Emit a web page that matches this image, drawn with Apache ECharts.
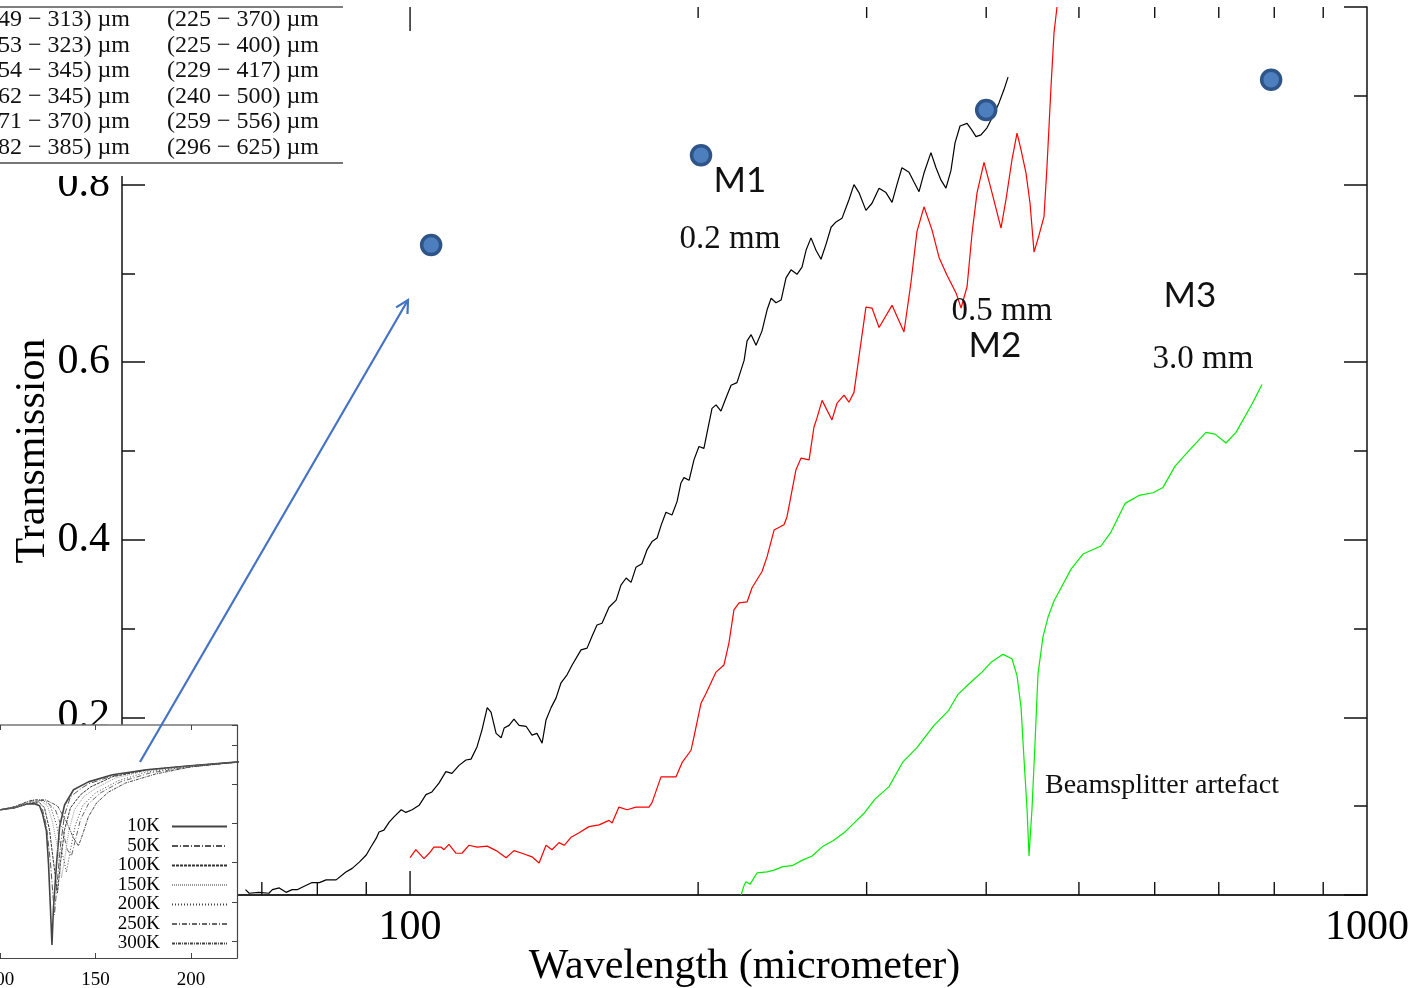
<!DOCTYPE html>
<html><head><meta charset="utf-8">
<script src="https://cdn.jsdelivr.net/npm/echarts@6/dist/echarts.min.js"></script>
<style>html,body{margin:0;padding:0;background:#fff}#c{width:1424px;height:988px}</style>
</head><body><div id="c"></div>
<script>
const SERIF = '"Liberation Serif","Times New Roman",serif';
const SANS = 'Lato,"Open Sans",sans-serif';

// ---- main chart: [wavelength (µm), transmission] ----
const curve02mm = [[67.3,0.006],[67.9,0.002],[69.5,0.003],[71.2,0.002],[71.8,0.006],[73.0,0.008],[74.2,0.003],[75.3,0.006],[76.2,0.006],[77.9,0.011],[79.0,0.014],[80.4,0.014],[81.7,0.017],[83.7,0.017],[85.7,0.026],[87.0,0.030],[88.5,0.037],[90.0,0.045],[91.0,0.054],[92.2,0.064],[92.8,0.071],[93.9,0.073],[95.1,0.082],[96.2,0.088],[97.9,0.096],[99.0,0.093],[100.5,0.096],[102.2,0.101],[103.9,0.113],[105.4,0.116],[107.2,0.126],[109.0,0.139],[110.6,0.137],[112.5,0.146],[114.4,0.152],[115.8,0.153],[117.5,0.167],[118.9,0.186],[120.4,0.211],[121.5,0.206],[123.0,0.182],[124.5,0.177],[125.4,0.188],[126.9,0.191],[128.4,0.198],[130.0,0.191],[132.2,0.190],[134.1,0.180],[135.7,0.182],[137.4,0.171],[138.7,0.197],[140.4,0.211],[142.1,0.222],[143.8,0.239],[145.9,0.248],[147.7,0.259],[150.9,0.276],[153.1,0.278],[154.9,0.291],[156.8,0.304],[158.7,0.306],[161.4,0.324],[164.2,0.332],[166.1,0.349],[168.2,0.357],[170.2,0.352],[172.2,0.369],[174.7,0.373],[176.9,0.389],[179.0,0.398],[181.2,0.402],[182.9,0.416],[185.1,0.431],[187.8,0.428],[190.1,0.443],[191.9,0.464],[193.3,0.470],[195.7,0.467],[198.0,0.490],[200.4,0.505],[202.8,0.503],[204.3,0.520],[206.8,0.548],[208.8,0.552],[211.3,0.545],[213.9,0.560],[216.5,0.574],[219.6,0.577],[223.4,0.602],[225.0,0.624],[227.2,0.631],[229.9,0.619],[233.2,0.635],[236.1,0.659],[238.4,0.672],[241.2,0.667],[244.2,0.670],[247.1,0.695],[250.1,0.704],[253.7,0.699],[256.8,0.707],[259.3,0.726],[262.4,0.740],[265.6,0.726],[268.8,0.716],[272.1,0.733],[275.4,0.752],[278.7,0.758],[282.7,0.762],[287.5,0.783],[291.0,0.800],[294.5,0.791],[299.5,0.771],[303.9,0.779],[309.1,0.796],[314.3,0.791],[318.9,0.780],[322.7,0.800],[326.6,0.819],[332.2,0.814],[336.2,0.803],[340.3,0.792],[344.4,0.813],[350.2,0.836],[354.5,0.819],[358.8,0.805],[363.1,0.796],[367.5,0.816],[371.1,0.847],[375.6,0.866],[382.0,0.869],[386.6,0.861],[390.3,0.854],[395.0,0.856],[400.8,0.864],[405.6,0.875],[412.5,0.892],[417.5,0.907],[421.6,0.921]];

const curve05mm = [[100.0,0.042],[101.4,0.051],[103.4,0.041],[104.7,0.047],[105.9,0.054],[107.7,0.054],[108.5,0.051],[109.8,0.057],[111.7,0.047],[113.3,0.047],[115.2,0.056],[117.5,0.054],[120.4,0.055],[123.0,0.050],[126.0,0.042],[128.4,0.050],[130.9,0.047],[134.1,0.043],[136.4,0.036],[138.7,0.056],[140.7,0.051],[143.1,0.059],[144.9,0.056],[147.3,0.065],[150.2,0.070],[153.8,0.077],[157.6,0.079],[161.4,0.084],[162.6,0.081],[165.3,0.099],[168.6,0.096],[172.2,0.099],[177.7,0.099],[179.0,0.104],[182.9,0.133],[189.6,0.133],[192.4,0.149],[196.6,0.163],[198.0,0.178],[201.4,0.216],[203.8,0.227],[208.8,0.251],[212.8,0.259],[215.4,0.284],[218.0,0.321],[220.7,0.329],[225.0,0.330],[227.7,0.346],[231.0,0.357],[233.2,0.364],[236.1,0.381],[240.1,0.411],[245.9,0.417],[247.7,0.426],[253.1,0.479],[256.2,0.492],[261.2,0.490],[264.3,0.527],[266.2,0.537],[269.5,0.557],[276.0,0.535],[279.4,0.554],[284.1,0.563],[287.5,0.555],[291.0,0.566],[294.5,0.606],[299.5,0.662],[303.9,0.661],[309.1,0.639],[318.9,0.664],[328.2,0.634],[333.8,0.690],[338.6,0.747],[344.4,0.775],[351.1,0.749],[357.1,0.718],[364.0,0.698],[372.0,0.678],[376.5,0.661],[382.0,0.685],[386.6,0.745],[391.3,0.791],[397.9,0.825],[405.6,0.791],[414.5,0.751],[419.5,0.783],[425.6,0.828],[430.8,0.858],[435.0,0.839],[440.2,0.813],[444.5,0.779],[448.8,0.724],[454.2,0.743],[459.7,0.764],[463.0,0.820],[467.5,0.910],[470.9,0.971],[474.3,1.000]];

const curve30mm = [[221.8,0.000],[223.4,0.011],[224.4,0.015],[226.6,0.012],[230.5,0.025],[236.1,0.026],[240.1,0.028],[245.3,0.032],[250.7,0.033],[256.8,0.039],[263.1,0.044],[270.1,0.055],[276.7,0.061],[284.1,0.070],[291.0,0.081],[298.1,0.092],[306.1,0.108],[316.6,0.122],[327.4,0.150],[338.6,0.166],[352.8,0.191],[364.9,0.207],[373.8,0.226],[386.6,0.241],[396.0,0.251],[404.7,0.262],[416.5,0.271],[425.6,0.266],[430.8,0.247],[435.0,0.211],[438.1,0.153],[441.3,0.097],[443.4,0.044],[446.6,0.097],[449.9,0.172],[453.1,0.249],[458.6,0.291],[464.2,0.313],[470.9,0.331],[480.1,0.348],[490.6,0.367],[504.9,0.384],[527.3,0.393],[540.2,0.409],[558.7,0.441],[577.8,0.450],[597.6,0.453],[612.1,0.459],[630.1,0.483],[654.8,0.503],[678.8,0.521],[693.7,0.519],[712.3,0.509],[729.6,0.521],[758.3,0.553],[776.7,0.575]];

const markerPoints = [[105.2,0.732],[201.4,0.833],[400.0,0.884],[794.0,0.918]];

const minorTickValues = [60,70,80,90,200,300,400,500,600,700,800,900];
const majorTickValues = [100];

// ---- inset chart (temperature series) ----
const insetNames = ['10K','50K','100K','150K','200K','250K','300K'];
const inset10K = [[100.3,0.435],[107.6,0.440],[114.4,0.450],[118.1,0.450],[120.7,0.445],[122.3,0.424],[124.3,0.381],[125.4,0.297],[126.4,0.185],[127.2,0.090],[128.0,0.185],[129.6,0.297],[131.2,0.391],[133.8,0.447],[138.5,0.486],[146.3,0.506],[158.9,0.524],[176.7,0.537],[199.7,0.547],[225.4,0.557]];
const inset50K = [[100.3,0.435],[107.6,0.440],[114.4,0.450],[119.1,0.452],[122.3,0.435],[124.3,0.394],[126.4,0.302],[128.5,0.167],[130.1,0.256],[131.7,0.345],[133.8,0.422],[136.9,0.468],[142.1,0.488],[146.3,0.501],[158.9,0.521],[176.7,0.537],[199.7,0.547],[225.4,0.557]];
const inset100K = [[100.3,0.435],[107.6,0.440],[114.4,0.450],[120.2,0.455],[123.3,0.440],[125.9,0.384],[128.0,0.302],[130.1,0.223],[131.7,0.302],[133.8,0.384],[136.9,0.440],[142.1,0.473],[147.4,0.493],[158.9,0.519],[176.7,0.536],[199.7,0.547],[225.4,0.557]];
const inset150K = [[100.3,0.435],[107.6,0.440],[114.4,0.451],[121.2,0.458],[124.9,0.445],[127.5,0.404],[130.1,0.338],[132.2,0.261],[133.8,0.307],[135.9,0.378],[139.0,0.435],[144.2,0.470],[150.5,0.491],[160.5,0.516],[176.7,0.534],[199.7,0.546],[225.4,0.557]];
const inset200K = [[100.3,0.435],[107.6,0.441],[114.4,0.452],[122.2,0.460],[126.4,0.445],[129.6,0.396],[132.2,0.333],[134.8,0.276],[136.9,0.333],[139.5,0.396],[143.2,0.445],[150.0,0.478],[162.0,0.509],[176.7,0.531],[199.7,0.545],[225.4,0.557]];
const inset250K = [[100.3,0.435],[107.6,0.442],[114.4,0.454],[118.6,0.460],[123.8,0.458],[129.0,0.435],[132.7,0.384],[135.3,0.333],[137.4,0.317],[139.5,0.358],[142.1,0.409],[146.3,0.450],[152.6,0.478],[163.1,0.506],[178.8,0.529],[199.7,0.544],[225.4,0.557]];
const inset300K = [[100.3,0.435],[107.6,0.443],[114.4,0.456],[117.5,0.460],[123.8,0.460],[130.1,0.445],[134.8,0.404],[138.5,0.363],[141.1,0.343],[143.2,0.371],[146.3,0.417],[150.5,0.452],[156.8,0.480],[165.7,0.503],[181.4,0.526],[199.7,0.544],[225.4,0.557]];
const insetCurves = [inset10K, inset50K, inset100K, inset150K, inset200K, inset250K, inset300K];

// ---- table overlay text ----
const tableCol1 = ['49 \u2212 313) \u00b5m','53 \u2212 323) \u00b5m','54 \u2212 345) \u00b5m','62 \u2212 345) \u00b5m','71 \u2212 370) \u00b5m','82 \u2212 385) \u00b5m'];
const tableCol2 = ['(225 \u2212 370) \u00b5m','(225 \u2212 400) \u00b5m','(229 \u2212 417) \u00b5m','(240 \u2212 500) \u00b5m','(259 \u2212 556) \u00b5m','(296 \u2212 625) \u00b5m'];

const insetStyles = [
  {color:'#444', width:1.6, type:'solid'},
  {color:'#555', width:1, type:[6,2,1,2]},
  {color:'#333', width:1, type:[3,1]},
  {color:'#999', width:1, type:[1,1]},
  {color:'#444', width:1, type:[1,2]},
  {color:'#666', width:1, type:[5,2,1,2]},
  {color:'#444', width:1, type:[3,1,1,1]}
];

const isDecade = v => Math.abs(Math.log10(v) - Math.round(Math.log10(v))) < 1e-6;

const chart = echarts.init(document.getElementById('c'));

const series = [
  {name:'0.2 mm', type:'line', data:curve02mm, showSymbol:false, symbol:'none', lineStyle:{color:'#000', width:1.2}, itemStyle:{color:'#000'}, z:3, xAxisIndex:0, yAxisIndex:0},
  {name:'0.5 mm', type:'line', data:curve05mm, showSymbol:false, symbol:'none', lineStyle:{color:'#ff0000', width:1.2}, itemStyle:{color:'#ff0000'}, z:3, xAxisIndex:0, yAxisIndex:0},
  {name:'3.0 mm', type:'line', data:curve30mm, showSymbol:false, symbol:'none', lineStyle:{color:'#00ee00', width:1.2}, itemStyle:{color:'#00ee00'}, z:3, xAxisIndex:0, yAxisIndex:0},
  {name:'ticks', type:'custom', xAxisIndex:0, yAxisIndex:0, silent:true, z:4, clip:false,
    data: minorTickValues.map(v => [v, 0]).concat(majorTickValues.map(v => [v, 1])),
    renderItem: function(params, api){
      const v = api.value(0), major = api.value(1) === 1;
      const b = api.coord([v, 0]), t = api.coord([v, 1]);
      const len = major ? 24 : 13;
      const st = {stroke:'#111', lineWidth:1.4};
      return {type:'group', children:[
        {type:'line', shape:{x1:b[0], y1:b[1], x2:b[0], y2:b[1]-len}, style:st},
        {type:'line', shape:{x1:t[0], y1:t[1], x2:t[0], y2:t[1]+(major ? len : 11)}, style:st}
      ]};
    }},
  {name:'M', type:'scatter', data:markerPoints, symbolSize:19, xAxisIndex:0, yAxisIndex:0, z:6,
    itemStyle:{color:'#4d7fbf', borderColor:'#2f5488', borderWidth:3.5, opacity:1}}
];
insetCurves.forEach((d, i) => {
  series.push({name:insetNames[i], type:'line', data:d, xAxisIndex:2, yAxisIndex:2, showSymbol:false, symbol:'none', z:23,
    lineStyle:{color:insetStyles[i].color, width:insetStyles[i].width, type:insetStyles[i].type},
    itemStyle:{color:insetStyles[i].color}});
});

const option = {
  animation:false,
  backgroundColor:'#fff',
  grid:[
    {left:122, top:7, right:57, bottom:93, containLabel:false, outerBoundsMode:'none'},
    {left:0, top:725, width:237, height:233, containLabel:false, outerBoundsMode:'none'}
  ],
  legend:{
    data:insetNames, orient:'vertical', align:'right', right:1424-228, top:817, padding:0,
    itemWidth:55, itemHeight:12, itemGap:0.5, selectedMode:false, z:24,
    itemStyle:{opacity:0},
    textStyle:{fontFamily:SERIF, fontSize:19, lineHeight:15, color:'#000', padding:[0,7,0,0]}
  },
  xAxis:[
    {gridIndex:0, type:'log', logBase:10, min:50, max:1000, position:'bottom',
      axisLine:{lineStyle:{color:'#111', width:1.5}}, axisTick:{show:false}, minorTick:{show:false}, splitLine:{show:false},
      axisLabel:{fontFamily:SERIF, fontSize:42, color:'#000', margin:12, showMinLabel:true, showMaxLabel:true,
        formatter: v => isDecade(v) ? String(Math.round(v)) : ''},
      name:'Wavelength (micrometer)', nameLocation:'middle', nameGap:51, nameMoveOverlap:false,
      nameTextStyle:{fontFamily:SERIF, fontSize:42, color:'#000'}},
    {gridIndex:0, type:'log', logBase:10, min:50, max:1000, position:'top',
      axisLine:{lineStyle:{color:'#222', width:1.5}}, axisTick:{show:false}, axisLabel:{show:false}, splitLine:{show:false}},
    {gridIndex:1, type:'value', min:100, max:224.1, interval:50, position:'bottom', z:21,
      axisLine:{lineStyle:{color:'#444', width:1.2}}, axisTick:{inside:true, length:5, lineStyle:{color:'#444'}}, splitLine:{show:false},
      axisLabel:{fontFamily:SERIF, fontSize:19, color:'#000', margin:13, showMinLabel:true, showMaxLabel:false,
        formatter: v => (Math.abs(v % 50) < 1e-6 ? String(v) : '')}},
    {gridIndex:1, type:'value', min:100, max:224.1, interval:50, position:'top', z:21,
      axisLine:{lineStyle:{color:'#777', width:1.6}}, axisTick:{inside:true, length:5, lineStyle:{color:'#444'}}, axisLabel:{show:false}, splitLine:{show:false}}
  ],
  yAxis:[
    {gridIndex:0, type:'value', min:0, max:1, interval:0.2, position:'left',
      axisLine:{show:true, lineStyle:{color:'#111', width:1.5}},
      axisTick:{show:true, inside:true, length:23, lineStyle:{color:'#111', width:1.5}},
      minorTick:{show:true, splitNumber:2, length:13, lineStyle:{color:'#111', width:1.5}},
      splitLine:{show:false},
      axisLabel:{fontFamily:SERIF, fontSize:42, color:'#000', margin:12, formatter: v => v.toFixed(1)},
      name:'Transmission', nameLocation:'middle', nameGap:68, nameRotate:90, nameMoveOverlap:false,
      nameTextStyle:{fontFamily:SERIF, fontSize:42, color:'#000'}},
    {gridIndex:0, type:'value', min:0, max:1, interval:0.2, position:'right',
      axisLine:{show:true, lineStyle:{color:'#111', width:1.5}},
      axisTick:{show:true, inside:true, length:23, lineStyle:{color:'#111', width:1.5}},
      minorTick:{show:true, splitNumber:2, length:13, lineStyle:{color:'#111', width:1.5}},
      splitLine:{show:false}, axisLabel:{show:false}},
    {gridIndex:1, type:'value', min:0.057, max:0.651, minInterval:0.1, maxInterval:0.1, position:'right', z:21,
      axisLine:{show:true, lineStyle:{color:'#444', width:1.2}},
      axisTick:{show:true, inside:true, length:5, lineStyle:{color:'#444'}},
      splitLine:{show:false}, axisLabel:{show:false}}
  ],
  series: series
};
chart.setOption(option);

// ---- overlays and annotations ----
const els = [];
// table overlay
els.push({type:'rect', shape:{x:0, y:0, width:386, height:176}, style:{fill:'#fff'}, z:20, silent:true});
els.push({type:'line', shape:{x1:0, y1:7, x2:343, y2:7}, style:{stroke:'#555', lineWidth:1.5}, z:21});
els.push({type:'line', shape:{x1:0, y1:163, x2:343, y2:163}, style:{stroke:'#777', lineWidth:2}, z:21});
tableCol1.forEach((t, i) => {
  const y = 20 + i * 25.5;
  els.push({type:'text', z:21, style:{text:t, x:-2, y:y, font:'24px ' + SERIF, fill:'#111', align:'left', verticalAlign:'middle'}});
  els.push({type:'text', z:21, style:{text:tableCol2[i], x:167, y:y, font:'24px ' + SERIF, fill:'#111', align:'left', verticalAlign:'middle'}});
});
// inset background
els.push({type:'rect', shape:{x:0, y:725, width:237, height:263}, style:{fill:'#fff'}, z:20, silent:true});

// text annotations
const notes = [
  {t:'M1', x:740, y:181, f:'35px ' + SANS},
  {t:'0.2 mm', x:730, y:239, f:'33px ' + SERIF},
  {t:'0.5 mm', x:1002, y:311, f:'33px ' + SERIF},
  {t:'M2', x:995, y:346, f:'35px ' + SANS},
  {t:'M3', x:1190, y:296, f:'35px ' + SANS},
  {t:'3.0 mm', x:1203, y:359, f:'33px ' + SERIF},
  {t:'Beamsplitter artefact', x:1162, y:786, f:'28px ' + SERIF}
];
notes.forEach(n => els.push({type:'text', z:25, style:{text:n.t, x:n.x, y:n.y, font:n.f, fill:'#111', align:'center', verticalAlign:'middle'}}));

// arrow
const a0 = [140, 762], a1 = [408, 300];
const dx = a1[0] - a0[0], dy = a1[1] - a0[1], L = Math.hypot(dx, dy);
const ux = -dx / L, uy = -dy / L, ang = 28 * Math.PI / 180, hl = 14;
const w1 = [a1[0] + hl * (ux * Math.cos(ang) - uy * Math.sin(ang)), a1[1] + hl * (ux * Math.sin(ang) + uy * Math.cos(ang))];
const w2 = [a1[0] + hl * (ux * Math.cos(-ang) - uy * Math.sin(-ang)), a1[1] + hl * (ux * Math.sin(-ang) + uy * Math.cos(-ang))];
els.push({type:'line', z:30, shape:{x1:a0[0], y1:a0[1], x2:a1[0], y2:a1[1]}, style:{stroke:'#4472c4', lineWidth:2.2}});
els.push({type:'polyline', z:30, shape:{points:[w1, a1, w2]}, style:{stroke:'#4472c4', lineWidth:2.2, fill:null}});

chart.setOption({graphic:{elements:els}});
</script>
</body></html>
